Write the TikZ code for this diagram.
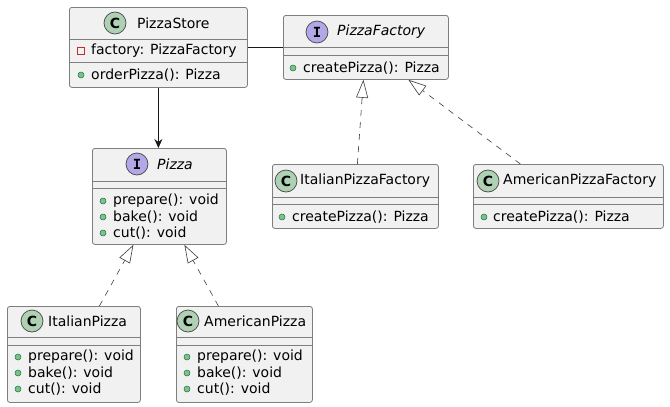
\documentclass[tikz,border=0pt]{standalone}
\usepackage{fontspec}
\setmainfont{DejaVu Sans}
\newfontfamily\badgefont{DejaVu Sans Mono}
\usetikzlibrary{positioning,arrows.meta,calc}
\definecolor{boxFill}{HTML}{F1F1F1}
\definecolor{boxLine}{HTML}{181818}
\definecolor{boxEdge}{HTML}{7E7E7E}
\definecolor{iconClass}{HTML}{ADD1B2}
\definecolor{iconIface}{HTML}{B4A7E5}
\definecolor{pubFill}{HTML}{84BE84}
\definecolor{pubLine}{HTML}{038048}
\definecolor{privLine}{HTML}{C82930}
\tikzset{
  classbox/.style={draw=boxEdge,fill=boxFill,line width=0.8pt,
                   rounded corners=2.5pt,inner sep=0pt,anchor=north west},
  sepline/.style ={draw=boxEdge,line width=0.8pt},
  badge/.style   ={circle,draw=boxLine!80,line width=0.7pt,minimum size=22pt,
                   inner sep=0pt,font=\fontsize{14}{14}\selectfont\bfseries},
  cbadge/.style  ={badge,fill=iconClass},
  ibadge/.style  ={badge,fill=iconIface,font=\badgefont\fontsize{14}{14}\selectfont\bfseries},
  title/.style   ={anchor=west,inner sep=0pt,font=\fontsize{14}{16}\selectfont},
  member/.style  ={anchor=west,inner sep=0pt,font=\fontsize{14}{16}\selectfont},
  pubmark/.style ={circle,draw=pubLine,fill=pubFill,line width=0.5pt,
                   minimum size=6pt,inner sep=0pt},
  privmark/.style={rectangle,draw=privLine,line width=0.7pt,
                   minimum size=6.5pt,inner sep=0pt},
  realize/.style ={draw=boxLine!85,line width=0.6pt,dash pattern=on 6pt off 6pt,
                   -{Triangle[open,length=18pt,width=12pt]}},
  uses/.style    ={draw=boxLine,line width=0.7pt,
                   -{Stealth[length=9pt,width=8pt,inset=3pt]}},
}
\begin{document}
\begin{tikzpicture}[x=1pt,y=-1pt]
  \useasboundingbox[fill=white] (0,0) rectangle (670,407);
  % class boxes
  \node[classbox,minimum width=178pt,minimum height=80pt] (store)   at (69,7)    {};
  \node[classbox,minimum width=165pt,minimum height=64pt] (factory) at (283,15)  {};
  \node[classbox,minimum width=134pt,minimum height=96pt] (pizza)   at (92,148)  {};
  \node[classbox,minimum width=166pt,minimum height=64pt] (ipf)     at (272,164) {};
  \node[classbox,minimum width=190pt,minimum height=64pt] (apf)     at (473,164) {};
  \node[classbox,minimum width=133pt,minimum height=96pt] (ip)      at (7,306)   {};
  \node[classbox,minimum width=136pt,minimum height=96pt] (ap)      at (176,306) {};
  \foreach \n/\a/\b in {store/32/55,factory/32/40,pizza/33/40,
                        ipf/33/40,apf/33/40,ip/31/39,ap/31/39}{
    \draw[sepline] ([yshift=-\a pt]\n.north west) -- ([yshift=-\a pt]\n.north east);
    \draw[sepline] ([yshift=-\b pt]\n.north west) -- ([yshift=-\b pt]\n.north east);
  }
  % headers
  \node[cbadge] (storeB)   at (115,23)  {C};
  \node[title]  (storeT)   at (137,23)  {PizzaStore};
  \node[ibadge] (factoryB) at (317,32)  {I};
  \node[title]  (factoryT) at (337,32)  {\itshape PizzaFactory};
  \node[ibadge] (pizzaB)   at (137,164) {I};
  \node[title]  (pizzaT)   at (157,164) {\itshape Pizza};
  \node[cbadge] (ipfB)     at (286,181) {C};
  \node[title]  (ipfT)     at (300,181) {ItalianPizzaFactory};
  \node[cbadge] (apfB)     at (488,181) {C};
  \node[title]  (apfT)     at (503,181) {AmericanPizzaFactory};
  \node[cbadge] (ipB)      at (32,321)  {C};
  \node[title]  (ipT)      at (48,321)  {ItalianPizza};
  \node[cbadge] (apB)      at (188,321) {C};
  \node[title]  (apT)      at (204,321) {AmericanPizza};
  % members
  \node[privmark] (storeFm) at (81,51)  {};
  \node[member]   (storeF)  at (91,51)  {factory: PizzaFactory};
  \node[pubmark]  (storeMm) at (81,75)  {};
  \node[member]   (storeM)  at (91,75)  {orderPizza(): Pizza};
  \node[pubmark]  (factoryMm) at (293,68) {};
  \node[member]   (factoryM)  at (303,68) {createPizza(): Pizza};
  \node[pubmark]  (ipfMm)   at (282,217) {};
  \node[member]   (ipfM)    at (292,217) {createPizza(): Pizza};
  \node[pubmark]  (apfMm)   at (484,217) {};
  \node[member]   (apfM)    at (493,217) {createPizza(): Pizza};
  \foreach \n/\x/\y in {pizza/103/201,ip/18/357,ap/187/357}{
    \node[pubmark] (\n M1m) at (\x,\y)    {};
    \node[member]  (\n M1)  at (\x+10,\y) {prepare(): void};
    \node[pubmark] (\n M2m) at (\x,\y+16) {};
    \node[member]  (\n M2)  at (\x+10,\y+16) {bake(): void};
    \node[pubmark] (\n M3m) at (\x,\y+32) {};
    \node[member]  (\n M3)  at (\x+10,\y+32) {cut(): void};
  }
  % relations
  \draw[boxLine,line width=0.7pt] ([yshift=4pt]store.east |- storeF)
        -- ([yshift=4pt]factory.west |- storeF);
  \draw[uses] (store.south) -- (store.south |- pizza.north);
  \draw[realize] ([xshift=2pt]ipf.north)     -- ([xshift=-2.5pt]factory.south);
  \draw[realize] ([xshift=-48pt]apf.north)   -- ([xshift=42.5pt]factory.south);
  \draw[realize] ([xshift=25.5pt]ip.north)   -- ([xshift=-26pt]pizza.south);
  \draw[realize] ([xshift=-26pt]ap.north)    -- ([xshift=25pt]pizza.south);
\end{tikzpicture}
\end{document}
